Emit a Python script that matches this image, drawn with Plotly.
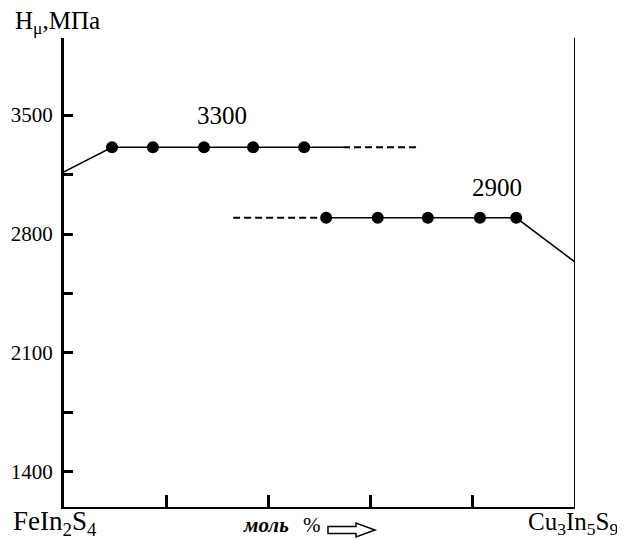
import plotly.graph_objects as go

# --- data ---
phase1_x = [9.4, 17.4, 27.4, 37.0, 47.0]          # mol %
phase1_y = [3310, 3310, 3310, 3310, 3310]          # MPa
phase1_start_y = 3165                              # at 0 mol % (FeIn2S4)
phase1_solid_end_x = 54.6
phase1_dash_x = [54.6, 69.3]

phase2_x = [51.3, 61.4, 71.2, 81.4, 88.5]
phase2_y = [2895, 2895, 2895, 2895, 2895]
phase2_dash_x = [33.1, 51.3]
phase2_end_y = 2635                                # at 100 mol % (Cu3In5S9)

y_tick_vals = [1400, 1750, 2100, 2450, 2800, 3150, 3500]
y_tick_text = ["1400", "", "2100", "", "2800", "", "3500"]
x_tick_vals = [20, 40, 60, 80]

label_1 = "3300"
label_2 = "2900"

SERIF = "Liberation Serif, Times New Roman, serif"
BLACK = "black"

# page has an 8px body margin -> figure coordinates = page - 8
W, H = 617, 531
PL, PR, PT, PB = 64, 575, 38, 507   # plot area in page pixels


def paper(px, py):
    return (px - PL) / (PR - PL), (PB - py) / (PB - PT)


fig = go.Figure()

fig.add_trace(go.Scatter(
    x=[0] + phase1_x + [phase1_solid_end_x],
    y=[phase1_start_y] + phase1_y + [phase1_y[-1]],
    mode="lines", line=dict(color=BLACK, width=1.5), hoverinfo="skip"))
fig.add_trace(go.Scatter(
    x=phase1_dash_x, y=[phase1_y[-1]] * len(phase1_dash_x),
    mode="lines", line=dict(color=BLACK, width=2, dash="7px,4px"), hoverinfo="skip"))
fig.add_trace(go.Scatter(
    x=phase1_x, y=phase1_y, mode="markers",
    marker=dict(color=BLACK, size=12), hoverinfo="skip"))

fig.add_trace(go.Scatter(
    x=phase2_dash_x, y=[phase2_y[0]] * len(phase2_dash_x),
    mode="lines", line=dict(color=BLACK, width=2, dash="7px,4px"), hoverinfo="skip"))
fig.add_trace(go.Scatter(
    x=phase2_x + [100], y=phase2_y + [phase2_end_y],
    mode="lines", line=dict(color=BLACK, width=1.5), hoverinfo="skip"))
fig.add_trace(go.Scatter(
    x=phase2_x, y=phase2_y, mode="markers",
    marker=dict(color=BLACK, size=12), hoverinfo="skip"))

fig.update_layout(
    width=W, height=H,
    margin=dict(l=PL - 8, r=W - (PR - 8), t=PT - 8, b=H - (PB - 8), autoexpand=False),
    paper_bgcolor="white", plot_bgcolor="white",
    showlegend=False,
    font=dict(family=SERIF, size=21, color=BLACK),
    xaxis=dict(range=[0, 100], showgrid=False, zeroline=False, automargin=False,
               showline=True, linecolor=BLACK, linewidth=2,
               ticks="inside", tickvals=x_tick_vals, ticklen=12, tickwidth=3,
               tickcolor=BLACK, showticklabels=False),
    yaxis=dict(range=[1194, 3953], showgrid=False, zeroline=False, automargin=False,
               showline=True, linecolor=BLACK, linewidth=3,
               ticks="inside", tickvals=y_tick_vals, ticktext=y_tick_text,
               ticklen=9, tickwidth=3, tickcolor=BLACK, ticklabelstandoff=4,
               tickfont=dict(family=SERIF, size=21, color=BLACK)),
)

# right boundary line
fig.add_shape(type="line", xref="x", yref="paper", x0=100, x1=100, y0=0, y1=1,
              line=dict(color=BLACK, width=2))

# value labels
fig.add_annotation(x=30.9, y=3500, xref="x", yref="y", text=label_1,
                   showarrow=False, font=dict(family=SERIF, size=25, color=BLACK))
fig.add_annotation(x=84.7, y=3075, xref="x", yref="y", text=label_2,
                   showarrow=False, font=dict(family=SERIF, size=25, color=BLACK))


def page_text(px, py, text, size, anchor="left", family=SERIF):
    xp, yp = paper(px, py)
    fig.add_annotation(x=xp, y=yp, xref="paper", yref="paper", text=text,
                       showarrow=False, xanchor=anchor, yanchor="middle",
                       font=dict(family=family, size=size, color=BLACK))


page_text(13, 22, "H<sub>μ</sub>,МПа", 25)
page_text(11, 523, "FeIn<sub>2</sub>S<sub>4</sub>", 27)
page_text(526, 523, "Cu<sub>3</sub>In<sub>5</sub>S<sub>9</sub>", 25)
page_text(241, 525, "<b><i>моль</i></b>", 21)
page_text(301, 525, "%", 21)

# hollow arrow drawn as a path in paper coordinates
pts = [(328, 526.5), (356, 526.5), (356, 523), (375, 530), (356, 537),
       (356, 533.5), (328, 533.5)]
path = ""
for i, (px, py) in enumerate(pts):
    xp, yp = paper(px, py)
    path += ("M" if i == 0 else "L") + f"{xp:.5f},{yp:.5f} "
path += "Z"
fig.add_shape(type="path", xref="paper", yref="paper", path=path,
              line=dict(color=BLACK, width=1.5), fillcolor="white")

fig.write_html("out.html")
